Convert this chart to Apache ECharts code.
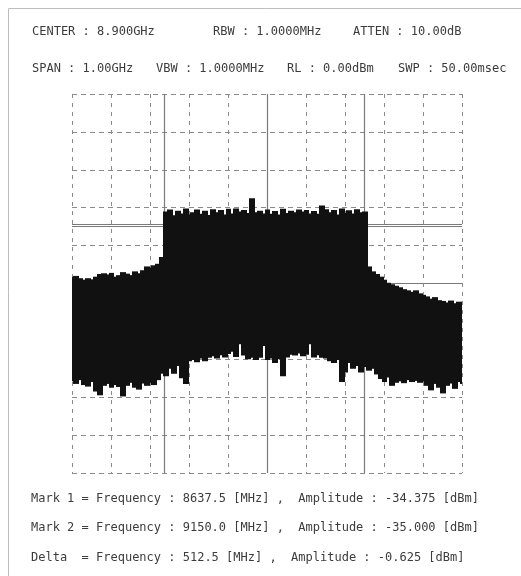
<!DOCTYPE html>
<html>
<head>
<meta charset="utf-8">
<script src="https://cdn.jsdelivr.net/npm/echarts@6/dist/echarts.min.js"></script>
<style>
html,body{margin:0;padding:0;background:#fff;}
#chart{width:521px;height:576px;}
</style>
</head>
<body>
<div id="chart"></div>
<script>
// ---- data (MHz / dBm) ----
const freqMHz = [8400,8410,8420,8430,8440,8450,8460,8470,8480,8490,
  8500,8510,8520,8530,8540,8550,8560,8570,8580,8590,
  8600,8610,8620,8630,8640,8650,8660,8670,8680,8690,
  8700,8710,8720,8730,8740,8750,8760,8770,8780,8790,
  8800,8810,8820,8830,8840,8850,8860,8870,8880,8890,
  8900,8910,8920,8930,8940,8950,8960,8970,8980,8990,
  9000,9010,9020,9030,9040,9050,9060,9070,9080,9090,
  9100,9110,9120,9130,9140,9150,9160,9170,9180,9190,
  9200,9210,9220,9230,9240,9250,9260,9270,9280,9290,
  9300,9310,9320,9330,9340,9350,9360,9370,9380,9390,9400];
// peak envelope of the noisy trace
const maxTrace = [-48.3,-48.0,-48.6,-49.0,-48.6,-48.9,-48.2,-47.5,-47.3,-47.6,
  -47.2,-48.2,-47.8,-47.0,-47.4,-47.8,-46.8,-47.3,-46.5,-45.5,
  -45.8,-45.2,-44.8,-43.0,-31.0,-30.5,-32.0,-30.8,-31.5,-30.2,
  -31.8,-31.2,-30.5,-31.6,-30.8,-31.9,-30.4,-31.2,-30.6,-31.8,
  -30.3,-31.5,-30.2,-31.0,-30.6,-31.4,-27.5,-31.2,-30.8,-31.5,
  -30.5,-31.6,-30.9,-31.8,-30.3,-31.4,-30.8,-31.2,-30.5,-31.0,
  -30.6,-31.5,-30.9,-31.6,-29.4,-30.4,-31.2,-30.6,-31.8,-30.2,
  -31.4,-30.7,-31.5,-30.4,-31.2,-31.0,-45.5,-46.8,-47.5,-48.2,
  -49.0,-49.8,-50.2,-50.6,-51.0,-51.5,-51.8,-52.2,-51.8,-52.6,
  -53.0,-53.4,-54.0,-53.6,-54.4,-54.6,-55.0,-54.5,-55.2,-54.8,-55.0];
// minimum envelope of the noisy trace
const minTrace = [-75.8,-76.5,-75.5,-76.8,-77.2,-76.0,-78.5,-79.5,-77.0,-76.5,
  -77.5,-76.8,-77.3,-79.8,-77.0,-76.2,-77.5,-78.0,-76.4,-77.0,
  -76.2,-76.8,-75.5,-73.8,-74.5,-72.5,-73.8,-71.8,-75.0,-76.5,
  -70.5,-70.2,-70.8,-69.8,-70.5,-69.6,-69.2,-69.8,-68.9,-69.5,
  -68.6,-68.0,-69.4,-66.0,-69.0,-70.0,-69.6,-70.2,-69.6,-66.5,
  -70.2,-69.8,-71.0,-70.0,-74.5,-69.5,-68.8,-69.0,-68.5,-69.2,
  -68.8,-66.0,-69.5,-68.9,-69.6,-69.8,-70.5,-71.0,-70.2,-76.0,
  -73.5,-71.0,-72.5,-71.8,-73.5,-72.0,-73.0,-72.5,-74.0,-75.2,
  -76.0,-74.8,-77.0,-76.2,-75.8,-76.3,-75.5,-76.0,-75.7,-76.2,
  -75.9,-77.0,-78.2,-76.5,-77.5,-79.0,-77.0,-76.4,-77.8,-76.0,-76.5];
const binWidthMHz = 10;
const markerFreq = [8637.5, 9150.0];
const markerAmp = [-34.375, -35.0];
const centerFreq = 8900;
const refLevelMid = -50;
const headerRow1 = ['CENTER : 8.900GHz', 'RBW : 1.0000MHz', 'ATTEN : 10.00dB'];
const headerRow2 = ['SPAN : 1.00GHz', 'VBW : 1.0000MHz', 'RL : 0.00dBm', 'SWP : 50.00msec'];
const footerRows = [
  'Mark 1 = Frequency : 8637.5 [MHz] ,  Amplitude : -34.375 [dBm]',
  'Mark 2 = Frequency : 9150.0 [MHz] ,  Amplitude : -35.000 [dBm]',
  'Delta  = Frequency : 512.5 [MHz] ,  Amplitude : -0.625 [dBm]'
];

// ---- build ----
const traceData = freqMHz.map((f, i) => [f, maxTrace[i], minTrace[i]]);

const FONT = '"DejaVu Sans Mono", "Liberation Mono", monospace';
const TXT = '#3c3c3c';
function txt(x, y, s) {
  return { type: 'text', x: x, y: y, style: { text: s, font: '12px ' + FONT, fill: TXT, textVerticalAlign: 'middle' } };
}
const hx1 = [32, 213, 353];
const hx2 = [32, 156, 287, 398];
const graphics = [
  { type: 'polyline', shape: { points: [[8.5, 600], [8.5, 8.5], [530, 8.5]] }, style: { stroke: '#bdbdbd', lineWidth: 1, fill: null }, silent: true }
];
headerRow1.forEach((s, i) => graphics.push(txt(hx1[i], 32, s)));
headerRow2.forEach((s, i) => graphics.push(txt(hx2[i], 69, s)));
const fy = [499, 528, 558];
footerRows.forEach((s, i) => graphics.push(txt(31, fy[i], s)));

const chart = echarts.init(document.getElementById('chart'), null, { renderer: 'canvas' });
chart.setOption({
  animation: false,
  backgroundColor: '#ffffff',
  grid: { left: 72, top: 94, width: 390, height: 379, containLabel: false },
  xAxis: {
    type: 'value', min: 8400, max: 9400, interval: 100,
    axisLine: { show: false }, axisTick: { show: false }, axisLabel: { show: false },
    splitLine: { show: true, lineStyle: { color: '#8a8a8a', width: 1, type: [4, 5] } }
  },
  yAxis: {
    type: 'value', min: -100, max: 0, interval: 10,
    axisLine: { show: false }, axisTick: { show: false }, axisLabel: { show: false },
    splitLine: { show: true, lineStyle: { color: '#8a8a8a', width: 1, type: [5, 4] } }
  },
  graphic: graphics,
  series: [
    {
      name: 'markers', type: 'line', z: 1, data: [[8400, -200]], symbol: 'none',
      lineStyle: { opacity: 0 },
      markLine: {
        z: 1, silent: true, symbol: 'none', label: { show: false },
        lineStyle: { color: '#7a7a7a', width: 1.2, type: 'solid' },
        data: [
          ...markerFreq.map(v => ({ xAxis: v })),
          { xAxis: centerFreq },
          ...markerAmp.map(v => ({ yAxis: v })),
          { yAxis: refLevelMid }
        ]
      }
    },
    {
      name: 'trace', type: 'custom', z: 10, clip: true,
      data: traceData,
      encode: { x: 0, y: [1, 2] },
      renderItem: function (params, api) {
        const f = api.value(0);
        const lo = Math.max(f - binWidthMHz / 2, 8400);
        const hi = Math.min(f + binWidthMHz / 2, 9400);
        const pTop = api.coord([lo, api.value(1)]);
        const pBot = api.coord([hi, api.value(2)]);
        const x0 = Math.floor(pTop[0]);
        const x1 = Math.ceil(pBot[0]) + 1;
        return {
          type: 'rect',
          shape: { x: x0, y: pTop[1], width: Math.min(x1, 462) - x0, height: pBot[1] - pTop[1] },
          style: { fill: '#111', stroke: null }
        };
      }
    }
  ]
});
</script>
</body>
</html>
